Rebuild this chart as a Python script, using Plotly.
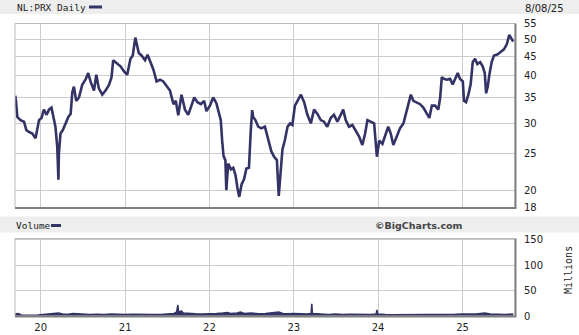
import math
import plotly.graph_objects as go

# ---------------- data ----------------
price_dates = [
    "2019-09-13", "2019-09-16", "2019-09-22", "2019-10-06", "2019-10-21", "2019-10-31",
    "2019-11-11", "2019-11-26", "2019-12-10", "2019-12-18", "2019-12-25", "2020-01-05",
    "2020-01-15", "2020-01-27", "2020-02-06", "2020-02-17", "2020-02-28", "2020-03-05",
    "2020-03-13", "2020-03-16", "2020-03-18", "2020-03-20", "2020-03-27", "2020-04-06",
    "2020-04-18", "2020-04-30", "2020-05-10", "2020-05-17", "2020-05-24", "2020-06-03",
    "2020-06-15", "2020-06-29", "2020-07-13", "2020-07-25", "2020-08-04", "2020-08-19",
    "2020-08-29", "2020-09-09", "2020-09-24", "2020-10-08", "2020-10-23", "2020-11-03",
    "2020-11-10", "2020-11-28", "2020-12-12", "2020-12-27", "2021-01-10", "2021-01-24",
    "2021-02-03", "2021-02-14", "2021-02-17", "2021-03-01", "2021-03-13", "2021-03-28",
    "2021-04-08", "2021-04-19", "2021-05-03", "2021-05-17", "2021-06-01", "2021-06-15",
    "2021-06-30", "2021-07-14", "2021-07-29", "2021-08-08", "2021-08-19", "2021-09-02",
    "2021-09-17", "2021-10-01", "2021-10-15", "2021-10-27", "2021-11-10", "2021-11-25",
    "2021-12-09", "2021-12-19", "2022-01-03", "2022-01-17", "2022-01-31", "2022-02-11",
    "2022-02-19", "2022-02-25", "2022-03-03", "2022-03-11", "2022-03-15", "2022-03-23",
    "2022-04-04", "2022-04-14", "2022-04-24", "2022-05-02", "2022-05-10", "2022-05-20",
    "2022-05-31", "2022-06-10", "2022-06-21", "2022-06-29", "2022-07-05", "2022-07-09",
    "2022-07-19", "2022-07-31", "2022-08-14", "2022-08-29", "2022-09-09", "2022-09-16",
    "2022-09-26", "2022-10-08", "2022-10-20", "2022-10-28", "2022-11-06", "2022-11-13",
    "2022-11-23", "2022-12-05", "2022-12-16", "2022-12-26", "2023-01-06", "2023-01-17",
    "2023-02-01", "2023-02-15", "2023-03-01", "2023-03-16", "2023-03-30", "2023-04-13",
    "2023-04-28", "2023-05-12", "2023-05-26", "2023-06-10", "2023-06-24", "2023-07-09",
    "2023-07-23", "2023-08-03", "2023-08-14", "2023-08-28", "2023-09-12", "2023-09-27",
    "2023-10-11", "2023-10-25", "2023-11-06", "2023-11-16", "2023-12-01", "2023-12-15",
    "2023-12-27", "2024-01-06", "2024-01-20", "2024-01-30", "2024-02-14", "2024-02-25",
    "2024-03-07", "2024-03-22", "2024-04-05", "2024-04-20", "2024-05-01", "2024-05-11",
    "2024-05-22", "2024-06-02", "2024-06-17", "2024-07-01", "2024-07-15", "2024-07-30",
    "2024-08-10", "2024-08-21", "2024-09-04", "2024-09-18", "2024-09-26", "2024-10-03",
    "2024-10-13", "2024-10-24", "2024-11-08", "2024-11-19", "2024-11-29", "2024-12-11",
    "2024-12-21", "2025-01-02", "2025-01-07", "2025-01-16", "2025-01-26", "2025-02-05",
    "2025-02-14", "2025-02-24", "2025-03-06", "2025-03-18", "2025-03-29", "2025-04-07",
    "2025-04-13", "2025-04-20", "2025-04-27", "2025-05-07", "2025-05-17", "2025-05-29",
    "2025-06-09", "2025-06-19", "2025-06-29", "2025-07-11", "2025-07-22", "2025-08-01",
    "2025-08-08",
]
price_close = [
    35.5, 34.5, 31.2, 30.6, 30.3, 28.8,
    28.5, 28.2, 27.4, 29.4, 30.6, 31.0,
    32.6, 31.6, 32.6, 33.0, 30.6, 29.4,
    26.0, 24.0, 21.3, 25.0, 28.2, 28.8,
    30.0, 31.2, 31.8, 36.2, 37.5, 34.4,
    35.1, 37.9, 39.1, 40.7, 38.7, 36.6,
    40.3, 37.1, 35.7, 36.6, 37.9, 39.7,
    44.0, 43.1, 42.4, 41.1, 40.3, 44.4,
    45.3, 50.5, 49.3, 46.0, 45.3, 44.0,
    45.5, 43.5, 41.6, 38.7, 39.1, 38.7,
    37.5, 36.6, 33.7, 34.4, 31.5, 35.7,
    32.6, 31.6, 33.4, 35.1, 34.1, 33.7,
    34.4, 32.3, 33.4, 35.1, 33.9, 31.8,
    30.6, 27.0, 24.6, 24.0, 20.0, 23.5,
    22.7, 22.9, 21.9, 20.3, 19.2, 20.7,
    21.4, 22.8, 22.9, 28.8, 32.5, 31.2,
    30.6, 29.4, 29.1, 29.4, 27.5, 26.6,
    25.3, 24.5, 24.0, 19.3, 23.3, 25.6,
    27.0, 29.4, 30.0, 29.7, 33.4, 34.4,
    35.7, 34.1, 31.6, 30.0, 32.6, 31.8,
    30.6, 30.3, 29.4, 31.0, 31.6, 30.3,
    31.6, 32.6, 30.6, 29.4, 29.7, 28.5,
    27.7, 26.3, 28.2, 30.6, 30.3, 30.0,
    24.5, 27.0, 26.5, 27.8, 29.4, 28.2,
    26.3, 27.7, 29.1, 30.0, 31.8, 34.1,
    35.7, 34.4, 34.1, 33.7, 33.0, 31.8,
    31.0, 33.4, 33.4, 32.6, 35.1, 39.7,
    39.3, 39.1, 39.3, 38.0, 39.1, 40.7,
    39.3, 38.7, 34.4, 34.1, 35.7, 38.0,
    43.5, 44.4, 43.0, 43.5, 42.4, 40.7,
    36.0, 37.5, 40.3, 43.5, 45.3, 45.5,
    46.0, 46.5, 47.0, 48.4, 51.3, 50.2,
    49.3,
]

vol_dates = [
    "2019-09-13", "2019-09-25", "2019-10-10", "2019-11-01", "2019-12-01", "2019-12-20",
    "2020-01-10", "2020-02-01", "2020-03-01", "2020-03-18", "2020-04-05", "2020-05-01",
    "2020-05-20", "2020-06-10", "2020-07-01", "2020-08-01", "2020-09-01", "2020-10-01",
    "2020-11-01", "2020-12-01", "2021-01-01", "2021-02-01", "2021-03-01", "2021-04-01",
    "2021-05-01", "2021-06-01", "2021-07-01", "2021-08-01", "2021-08-12", "2021-08-17",
    "2021-08-21", "2021-09-01", "2021-09-10", "2021-10-01", "2021-11-01", "2021-12-01",
    "2022-01-01", "2022-02-01", "2022-03-01", "2022-03-20", "2022-04-01", "2022-05-01",
    "2022-05-15", "2022-06-01", "2022-07-01", "2022-08-01", "2022-09-01", "2022-10-01",
    "2022-10-28", "2022-11-15", "2022-12-01", "2023-01-01", "2023-02-01", "2023-03-01",
    "2023-03-17", "2023-03-20", "2023-03-23", "2023-04-15", "2023-05-01", "2023-06-01",
    "2023-07-01", "2023-08-01", "2023-09-01", "2023-10-01", "2023-11-01", "2023-12-01",
    "2023-12-24", "2023-12-27", "2023-12-30", "2024-01-15", "2024-02-01", "2024-03-01",
    "2024-04-01", "2024-05-01", "2024-06-01", "2024-07-01", "2024-08-01", "2024-09-01",
    "2024-10-01", "2024-11-01", "2024-12-01", "2025-01-01", "2025-02-01", "2025-03-01",
    "2025-04-07", "2025-05-01", "2025-06-01", "2025-07-01", "2025-08-08",
]
vol_millions = [
    4, 5, 2, 1.5, 1.5, 2,
    3, 3, 4, 6, 4, 3.5,
    5, 4, 4, 3, 3.5, 3,
    4, 3, 3, 3.5, 3, 2.5,
    3, 3, 3.5, 5, 8, 22,
    7, 10, 6, 5, 4.5, 4,
    4, 5, 6, 7, 5, 6,
    8, 5, 6, 4.5, 5, 6,
    8, 5, 4.5, 5, 4, 4,
    5, 24, 5, 4, 3.5, 3,
    4, 3, 3.5, 3, 3.5, 3,
    4, 12, 4, 3, 3, 2.5,
    2.5, 3, 2.5, 2.5, 3, 3,
    3.5, 3, 3.5, 4, 4, 4,
    6, 4, 3.5, 3, 4,
]

year_ticks = ["2020-01-01", "2021-01-01", "2022-01-01", "2023-01-01", "2024-01-01", "2025-01-01"]
year_labels = ["20", "21", "22", "23", "24", "25"]
price_ticks = [18, 20, 25, 30, 35, 40, 45, 50, 55]
vol_ticks = [0, 50, 100, 150]
x_range = ["2019-09-12", "2025-08-16"]

# ---------------- style ----------------
W, H = 579, 335
NAVY = "#333366"
GRID = "#cccccc"
TXT = "#222222"
L, R = 15, 515


def py(px):
    return 1 - px / H


def pxx(px):
    return (px - L) / (R - L)


main_dom = [py(207.5), py(23.5)]
vol_dom = [py(316), py(238.5)]

fig = go.Figure()
fig.add_trace(go.Scatter(x=price_dates, y=price_close, mode="lines",
                         line=dict(color=NAVY, width=2.6), xaxis="x", yaxis="y",
                         hoverinfo="skip"))
fig.add_trace(go.Scatter(x=vol_dates, y=vol_millions, mode="lines", fill="tozeroy",
                         fillcolor=NAVY, line=dict(color=NAVY, width=1.5),
                         xaxis="x2", yaxis="y2", hoverinfo="skip"))

tick_font = dict(family="DejaVu Sans", size=10, color=TXT)

fig.update_layout(
    width=W, height=H, margin=dict(l=L, r=W - R, t=0, b=0),
    paper_bgcolor="white", plot_bgcolor="white", showlegend=False,
    xaxis=dict(domain=[0, 1], range=x_range, anchor="y", tickvals=year_ticks,
               showticklabels=False, showgrid=True, gridcolor=GRID, gridwidth=1,
               zeroline=False, showline=False, ticks=""),
    xaxis2=dict(domain=[0, 1], range=x_range, anchor="y2", matches="x",
                tickvals=year_ticks, ticktext=year_labels, showgrid=True,
                gridcolor=GRID, gridwidth=1, zeroline=False, showline=False,
                ticks="outside", ticklen=2, tickcolor="rgba(0,0,0,0)",
                tickfont=tick_font, automargin=False),
    yaxis=dict(domain=main_dom, type="log",
               range=[math.log10(price_ticks[0]), math.log10(price_ticks[-1])],
               side="right", anchor="x", tickvals=price_ticks,
               ticktext=[str(v) for v in price_ticks], showgrid=True,
               gridcolor=GRID, gridwidth=1, zeroline=False, showline=False,
               ticks="outside", ticklen=6, tickcolor="rgba(0,0,0,0)",
               tickfont=tick_font, automargin=False),
    yaxis2=dict(domain=vol_dom, range=[0, 152], side="right", anchor="x2",
                tickvals=vol_ticks, ticktext=[str(v) for v in vol_ticks],
                showgrid=True, gridcolor=GRID, gridwidth=1, zeroline=False,
                showline=False, ticks="outside", ticklen=6,
                tickcolor="rgba(0,0,0,0)", tickfont=tick_font, automargin=False),
)

shapes = []
# header bands
shapes.append(dict(type="rect", xref="paper", yref="paper", x0=pxx(0), x1=pxx(W),
                   y0=py(14), y1=py(0), fillcolor="#eeeeee", line=dict(width=0),
                   layer="below"))
shapes.append(dict(type="rect", xref="paper", yref="paper", x0=pxx(0), x1=pxx(W),
                   y0=py(232.5), y1=py(216.5), fillcolor="#eeeeee", line=dict(width=0),
                   layer="below"))
# legend swatches
shapes.append(dict(type="line", xref="paper", yref="paper", x0=pxx(89), x1=pxx(102),
                   y0=py(7), y1=py(7), line=dict(color=NAVY, width=3)))
shapes.append(dict(type="line", xref="paper", yref="paper", x0=pxx(51), x1=pxx(61),
                   y0=py(225.5), y1=py(225.5), line=dict(color=NAVY, width=3)))
# panel borders with shadow on right/bottom
for dom in (main_dom, vol_dom):
    shapes.append(dict(type="rect", xref="paper", yref="paper", x0=0, x1=1,
                       y0=dom[0], y1=dom[1], line=dict(color="#bbbbbb", width=1)))
    shapes.append(dict(type="line", xref="paper", yref="paper", x0=1 + 0.5 / 500,
                       x1=1 + 0.5 / 500, y0=dom[0], y1=dom[1],
                       line=dict(color="#808080", width=2)))
    shapes.append(dict(type="line", xref="paper", yref="paper", x0=0, x1=1 + 1.5 / 500,
                       y0=dom[0] - 0.5 / H, y1=dom[0] - 0.5 / H,
                       line=dict(color="#808080", width=2)))
fig.update_layout(shapes=shapes)

mono = "DejaVu Sans Mono"
ann = [
    dict(text="NL:PRX Daily", x=pxx(15), y=py(7.5), xanchor="left", yanchor="middle",
         font=dict(family=mono, size=9.5, color=TXT)),
    dict(text="8/08/25", x=pxx(523), y=py(9), xanchor="left", yanchor="middle",
         font=dict(family="DejaVu Sans", size=10, color=TXT)),
    dict(text="Volume", x=pxx(14), y=py(225), xanchor="left", yanchor="middle",
         font=dict(family=mono, size=9.5, color=TXT)),
    dict(text="<b>©BigCharts.com</b>", x=pxx(465), y=py(225), xanchor="right",
         yanchor="middle", font=dict(family="DejaVu Sans", size=9.5, color="#444444")),
    dict(text="Millions", x=pxx(568), y=py(270), xanchor="center", yanchor="middle",
         textangle=-90, font=dict(family=mono, size=10, color=TXT)),
]
for a in ann:
    a.update(xref="paper", yref="paper", showarrow=False)
fig.update_layout(annotations=ann)

fig.write_html("out.html")
